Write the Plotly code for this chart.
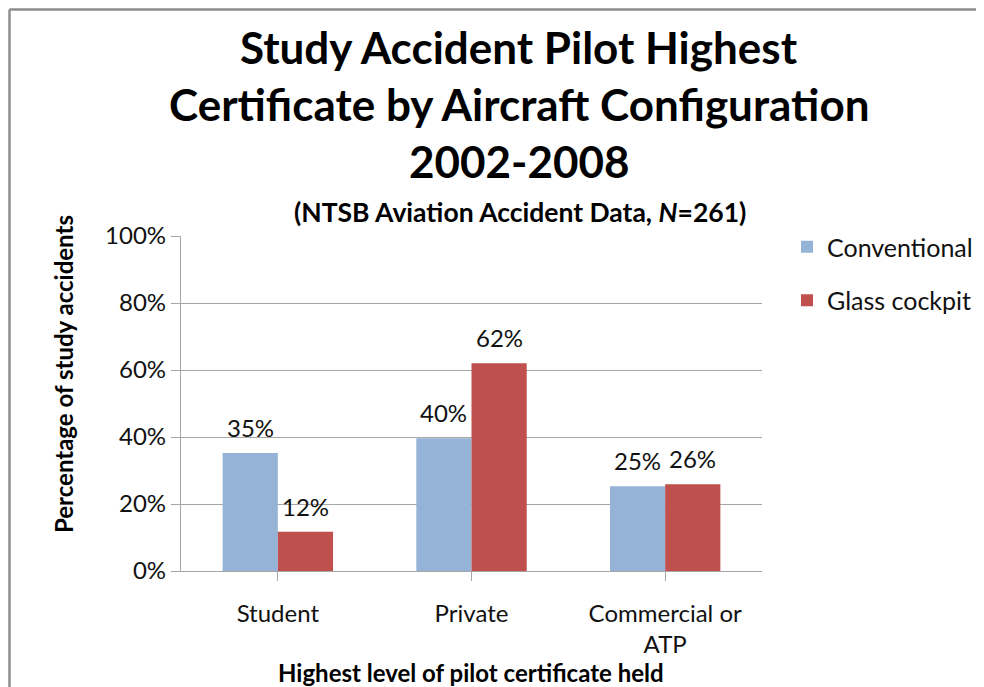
import plotly.graph_objects as go

# ---- data ----
categories = ["Student", "Private", "Commercial or<br>ATP"]
conventional = [0.352, 0.396, 0.253]
glass_cockpit = [0.117, 0.620, 0.259]
series_names = ["Conventional", "Glass cockpit"]
y_ticks = [0, 0.2, 0.4, 0.6, 0.8, 1.0]
y_tick_labels = ["0%", "20%", "40%", "60%", "80%", "100%"]

title_lines = ["Study Accident Pilot Highest",
               "Certificate by Aircraft Configuration",
               "2002-2008"]
subtitle = "(NTSB Aviation Accident Data, <i>N</i>=261)"
x_title = "Highest level of pilot certificate held"
y_title = "Percentage of study accidents"

# ---- layout geometry (pixels) ----
W, H = 984, 687
OFF = 8  # page body margin
L, R, T, B = 173, 230, 228, 124
PW, PH = W - L - R, H - T - B

def px_x(px):
    return (px - OFF - L) / PW

def px_y(py):
    return (H - B - (py - OFF)) / PH

FONT = "Lato"
BLUE = "#95B3D7"
RED = "#C0504D"
GRID = "#A6A6A6"
TXT = "#111111"
bargap = 0.43

fig = go.Figure()
fig.add_trace(go.Bar(x=list(range(3)), y=conventional, name=series_names[0],
                     marker=dict(color=BLUE, line=dict(width=0)),
                     legendgroup="a"))
fig.add_trace(go.Bar(x=list(range(3)), y=glass_cockpit, name=series_names[1],
                     marker=dict(color=RED, line=dict(width=0)),
                     legendgroup="b"))

annotations = []
bw = (1 - bargap) / 2
for vals, off in ((conventional, -bw / 2), (glass_cockpit, bw / 2)):
    for i, v in enumerate(vals):
        annotations.append(dict(x=i + off, y=v, xref="x", yref="y",
                                text=f"{v:.0%}", showarrow=False,
                                yanchor="bottom", yshift=9,
                                font=dict(family=FONT, size=24, color=TXT)))

title_y = [47, 104, 161]
for line, yy in zip(title_lines, title_y):
    annotations.append(dict(x=px_x(519), y=px_y(yy), xref="paper", yref="paper",
                            text=f"<b>{line}</b>", showarrow=False,
                            xanchor="center", yanchor="middle",
                            font=dict(family=FONT, size=44, color="black")))
annotations.append(dict(x=px_x(520), y=px_y(212), xref="paper", yref="paper",
                        text=f"<b>{subtitle}</b>", showarrow=False,
                        xanchor="center", yanchor="middle",
                        font=dict(family=FONT, size=26.5, color="black")))
annotations.append(dict(x=px_x(63), y=px_y(374), xref="paper", yref="paper",
                        text=f"<b>{y_title}</b>", showarrow=False, textangle=-90,
                        xanchor="center", yanchor="middle",
                        font=dict(family=FONT, size=24, color="black")))
annotations.append(dict(x=px_x(471), y=px_y(672), xref="paper", yref="paper",
                        text=f"<b>{x_title}</b>", showarrow=False,
                        xanchor="center", yanchor="middle",
                        font=dict(family=FONT, size=24, color="black")))

shapes = [
    dict(type="line", xref="paper", yref="paper",
         x0=px_x(9.5), x1=px_x(W + 20), y0=px_y(9.5), y1=px_y(9.5),
         line=dict(color="#8C8C8C", width=2.5)),
    dict(type="line", xref="paper", yref="paper",
         x0=px_x(9.5), x1=px_x(9.5), y0=px_y(9.5), y1=px_y(H + 20),
         line=dict(color="#8C8C8C", width=2.5)),
]

fig.update_layout(
    width=W, height=H,
    margin=dict(l=L, r=R, t=T, b=B, autoexpand=False),
    paper_bgcolor="white", plot_bgcolor="white",
    barmode="group", bargap=bargap, bargroupgap=0,
    font=dict(family=FONT, size=24, color=TXT),
    showlegend=True,
    legend=dict(x=px_x(787), y=px_y(224), xanchor="left", yanchor="top",
                traceorder="grouped", tracegroupgap=18,
                font=dict(family=FONT, size=25, color=TXT),
                bgcolor="rgba(0,0,0,0)"),
    xaxis=dict(tickmode="array", tickvals=list(range(3)), ticktext=categories,
               range=[-0.5, 2.5], showgrid=False,
               showline=True, linecolor=GRID, linewidth=1.3,
               ticks="outside", ticklen=9, tickcolor=GRID, tickwidth=1.3,
               tickfont=dict(family=FONT, size=24, color=TXT),
               ticklabelstandoff=12),
    yaxis=dict(range=[0, 1], tickvals=y_ticks, ticktext=y_tick_labels,
               showgrid=True, gridcolor=GRID, gridwidth=1.3,
               showline=True, linecolor=GRID, linewidth=1.3,
               ticks="outside", ticklen=9, tickcolor=GRID, tickwidth=1.3,
               tickfont=dict(family=FONT, size=24, color=TXT),
               zeroline=False),
    annotations=annotations,
    shapes=shapes,
)

fig.write_html("out.html")
